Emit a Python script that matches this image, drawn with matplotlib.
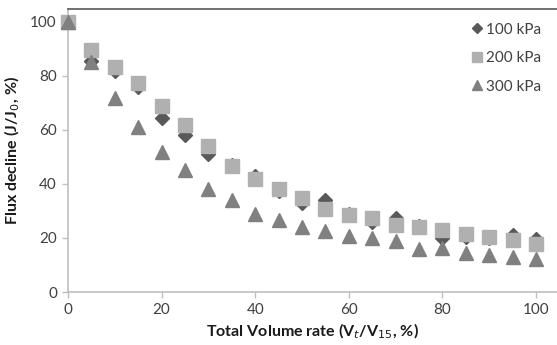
import matplotlib
matplotlib.use("Agg")
import matplotlib.pyplot as plt

x = [0, 5, 10, 15, 20, 25, 30, 35, 40, 45, 50, 55, 60, 65, 70, 75, 80, 85, 90, 95, 100]
kpa100 = [100, 85.5, 82, 76, 64.5, 58, 51, 47, 43, 37.5, 33, 34, 29, 26, 27.5, 24.5, 20, 20.5, 20, 21, 19.5]
kpa200 = [100, 89.5, 83.5, 77.5, 69, 62, 54, 46.5, 42, 38.3, 34.8, 30.9, 28.5, 27.4, 24.8, 24, 23, 21.5, 20.2, 19.1, 17.8]
kpa300 = [100, 85, 72, 61, 52, 45, 38, 34, 29, 26.5, 24.2, 22.7, 20.7, 19.9, 19, 16, 16.3, 14.6, 13.7, 13.1, 12.3]
labels = ["100 kPa", "200 kPa", "300 kPa"]
xticks = [0, 20, 40, 60, 80, 100]
yticks = [0, 20, 40, 60, 80, 100]

plt.rcParams['font.family'] = ['Lato', 'DejaVu Sans']

fig = plt.figure(figsize=(5.57, 3.45), dpi=100)
ax = fig.add_axes([68/557, 53/345, 489/557, 283/345])

ax.plot(x, kpa100, linestyle='none', marker='D', markersize=7.5, color='#595959', label=labels[0], zorder=3, clip_on=False)
ax.plot(x, kpa200, linestyle='none', marker='s', markersize=9.5, color='#b0b0b0', label=labels[1], zorder=4, clip_on=False)
ax.plot(x, kpa300, linestyle='none', marker='^', markersize=10, color='#808080', label=labels[2], zorder=5, clip_on=False)

ax.set_xlim(0, 104.5)
ax.set_ylim(0, 104.8)
ax.set_xticks(xticks)
ax.set_yticks(yticks)
ax.tick_params(axis='both', direction='out', length=4, width=1, color='#bfbfbf',
               labelsize=11, labelcolor='#404040', pad=4)
for s in ['left', 'bottom']:
    ax.spines[s].set_color('#bfbfbf')
    ax.spines[s].set_linewidth(1.2)
ax.spines['right'].set_visible(False)
ax.spines['top'].set_color('#595959')
ax.spines['top'].set_linewidth(1.2)

ax.set_xlabel('Total Volume rate (V$_t$/V$_{15}$, %)', fontsize=11.5, fontweight='bold', color='#1a1a1a', labelpad=3)
ax.set_ylabel('Flux decline (J/J$_0$, %)', fontsize=11.5, fontweight='bold', color='#1a1a1a', labelpad=6)

leg = ax.legend(loc='upper right', frameon=False, fontsize=11, markerscale=0.7,
                handlelength=0.6, handletextpad=0.3, labelspacing=0.95,
                bbox_to_anchor=(0.995, 1.0))
for t in leg.get_texts():
    t.set_color('#404040')

fig.savefig('out.png', dpi=100)
